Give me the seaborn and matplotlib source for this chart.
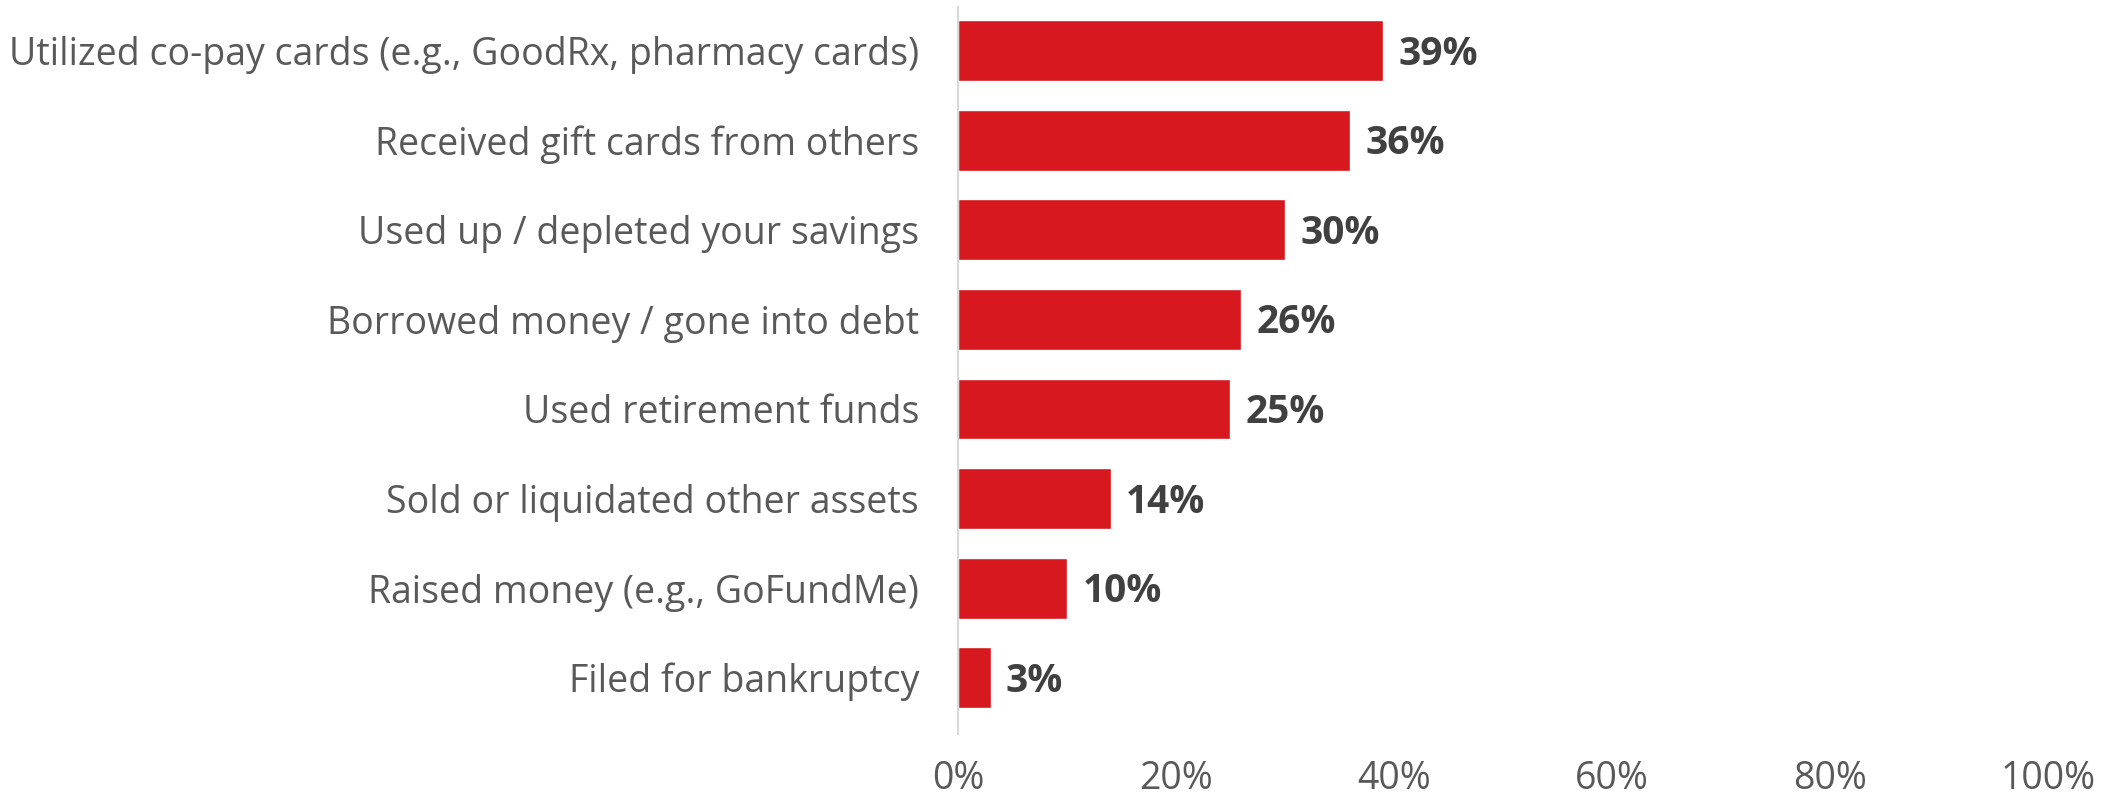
import matplotlib
matplotlib.use("Agg")
import matplotlib.pyplot as plt
import seaborn as sns
import pandas as pd
from matplotlib.ticker import FuncFormatter

# Actions taken to afford care
actions = [
    "Utilized co-pay cards (e.g., GoodRx, pharmacy cards)",
    "Received gift cards from others",
    "Used up / depleted your savings",
    "Borrowed money / gone into debt",
    "Used retirement funds",
    "Sold or liquidated other assets",
    "Raised money (e.g., GoFundMe)",
    "Filed for bankruptcy",
]
shares = [39, 36, 30, 26, 25, 14, 10, 3]
x_ticks = [0, 20, 40, 60, 80, 100]

df = pd.DataFrame({"action": actions, "share": shares})

sns.set_theme(style="white")
plt.rcParams["font.family"] = ["Open Sans", "DejaVu Sans"]

fig = plt.figure(figsize=(21.12, 7.95), dpi=100)
ax = fig.add_axes([0.4536, 0.0767, 0.516, 0.914])

sns.barplot(data=df, x="share", y="action", color="#D7181F",
            saturation=1, width=0.68, ax=ax)

ax.set_xlim(0, 100)
ax.set_ylim(7.63, -0.485)
ax.set_xticks(x_ticks)
ax.xaxis.set_major_formatter(FuncFormatter(lambda v, p: f"{v:.0f}%"))
ax.set_xlabel("")
ax.set_ylabel("")

for side in ["top", "right", "bottom"]:
    ax.spines[side].set_visible(False)
ax.spines["left"].set_color("#D9D9D9")
ax.spines["left"].set_linewidth(1.5)

ax.tick_params(axis="x", length=0, pad=19, labelsize=27, labelcolor="#595959")
ax.tick_params(axis="y", length=0, pad=28, labelsize=27, labelcolor="#595959")

for i, v in enumerate(shares):
    ax.annotate(f"{v}%", xy=(v, i), xytext=(11, -2.5), textcoords="offset points",
                va="center", ha="left", fontsize=28, fontweight="bold",
                color="#404040")

fig.savefig("out.png", dpi=100, facecolor="white")
